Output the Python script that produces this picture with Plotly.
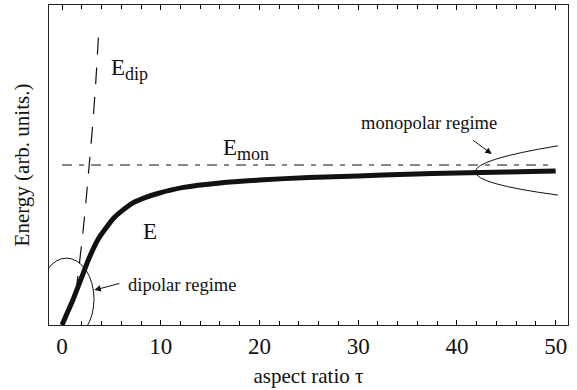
import plotly.graph_objects as go

# Total energy E versus aspect ratio
tau_E = [0, 0.5, 1.1, 2.0, 2.8, 3.7, 4.5, 5.2, 6.0, 7.1, 8.4, 9.7, 12.3, 16, 20, 25, 30, 35, 40, 45, 50]
E_tot = [0, 0.036, 0.078, 0.15, 0.213, 0.27, 0.305, 0.333, 0.355, 0.38, 0.398, 0.411, 0.43, 0.444,
         0.453, 0.461, 0.466, 0.471, 0.475, 0.478, 0.481]

# Dipolar energy (steep dashed curve)
tau_dip = [1.40, 1.75, 2.10, 2.45, 2.75, 3.05, 3.40, 3.75]
E_dip = [0.10, 0.19, 0.285, 0.395, 0.50, 0.605, 0.75, 0.9375]

# Monopolar energy (flat dash-dot level)
tau_mon = [0, 49.4]
E_mon = [0.5, 0.5]

FONT = "Liberation Serif"
INK = "#111111"

fig = go.Figure()

fig.add_trace(go.Scatter(
    x=tau_mon, y=E_mon, mode="lines",
    line=dict(color=INK, width=1.2, dash="10px,7px,5px,7px"),
    hoverinfo="skip", showlegend=False))

fig.add_trace(go.Scatter(
    x=tau_dip, y=E_dip, mode="lines",
    line=dict(color=INK, width=1.2, dash="17px,13px", shape="spline", smoothing=0.8),
    hoverinfo="skip", showlegend=False))

fig.add_trace(go.Scatter(
    x=tau_E, y=E_tot, mode="lines",
    line=dict(color=INK, width=5, shape="spline", smoothing=0.8),
    hoverinfo="skip", showlegend=False))

# Ellipse marking the dipolar regime near the origin
fig.add_shape(type="circle", xref="x", yref="y",
              x0=-2.34, x1=3.24, y0=-0.047, y1=0.209,
              line=dict(color=INK, width=1))

# Open bracket marking the monopolar regime at large tau
fig.add_shape(type="path", xref="x", yref="y",
              path="M 50.23,0.560 Q 33.49,0.475 50.23,0.406",
              line=dict(color=INK, width=1))

label_font = dict(family=FONT, size=23, color=INK)
note_font = dict(family=FONT, size=18.5, color=INK)

fig.add_annotation(x=4.8, y=0.80, xref="x", yref="y", xanchor="left", yanchor="middle",
                   text='E<sub><span style="font-size:18px">dip</span></sub>',
                   showarrow=False, font=label_font)
fig.add_annotation(x=16.1, y=0.55, xref="x", yref="y", xanchor="left", yanchor="middle",
                   text='E<sub><span style="font-size:18px">mon</span></sub>',
                   showarrow=False, font=label_font)
fig.add_annotation(x=8.9, y=0.292, xref="x", yref="y", xanchor="center", yanchor="middle",
                   text="E", showarrow=False, font=label_font)

fig.add_annotation(x=6.45, y=0.125, xref="x", yref="y", xanchor="left", yanchor="middle",
                   text="dipolar regime", showarrow=False, font=note_font)
fig.add_annotation(x=37.2, y=0.63, xref="x", yref="y", xanchor="center", yanchor="middle",
                   text="monopolar regime", showarrow=False, font=note_font)

# Arrows pointing at the two regimes
fig.add_annotation(x=3.27, y=0.109, ax=5.96, ay=0.131, xref="x", yref="y",
                   axref="x", ayref="y", text="", showarrow=True,
                   arrowhead=2, arrowsize=1.3, arrowwidth=1, arrowcolor=INK)
fig.add_annotation(x=43.53, y=0.534, ax=41.48, ay=0.581, xref="x", yref="y",
                   axref="x", ayref="y", text="", showarrow=True,
                   arrowhead=2, arrowsize=1.3, arrowwidth=1, arrowcolor=INK)

fig.update_layout(
    width=577, height=390,
    margin=dict(l=49, r=9, t=5, b=65),
    paper_bgcolor="white", plot_bgcolor="white",
    font=dict(family=FONT, color=INK),
    showlegend=False,
    xaxis=dict(
        range=[-1.32, 51.25],
        tickmode="linear", tick0=0, dtick=10,
        ticks="inside", ticklen=5, tickwidth=1.3, tickcolor="#000000",
        minor=dict(dtick=2, ticks="inside", ticklen=4,
                   tickwidth=1.1, tickcolor="#000000"),
        showline=True, linecolor="#222222", linewidth=1.4, mirror="ticks",
        showgrid=False, zeroline=False,
        tickfont=dict(family=FONT, size=23, color=INK),
        title=dict(text="aspect ratio τ", font=dict(family=FONT, size=21, color=INK), standoff=10),
    ),
    yaxis=dict(
        range=[0, 1],
        showticklabels=False, ticks="",
        showline=True, linecolor="#222222", linewidth=1.4, mirror=True,
        showgrid=False, zeroline=False,
        title=dict(text="Energy (arb. units.)", font=dict(family=FONT, size=21, color=INK), standoff=12),
    ),
)

fig.write_html("out.html")
